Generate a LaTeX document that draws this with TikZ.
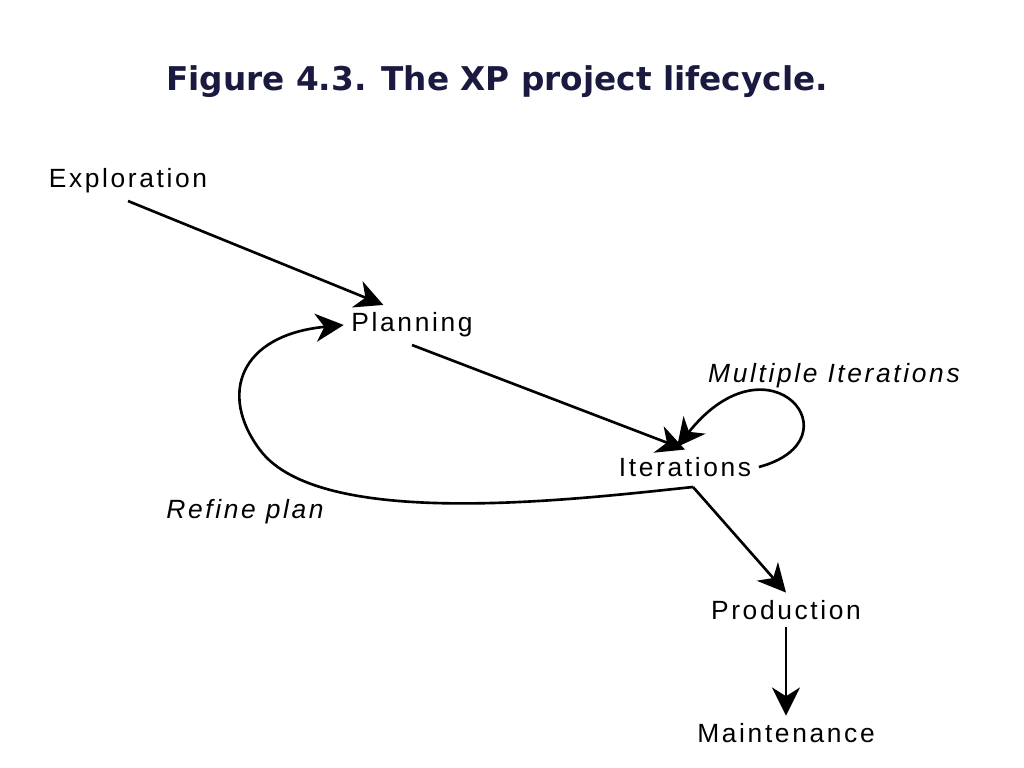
\documentclass[tikz,border=0pt]{standalone}
\usepackage{fontspec}
\setmainfont{Liberation Sans}
\newfontfamily\stagefont[LetterSpace=10]{Liberation Sans}
\newfontfamily\headfont{DejaVu Sans}
\usepackage{tikz}
\usetikzlibrary{arrows.meta}
\usepackage{xcolor}
\definecolor{headnavy}{RGB}{26,26,64}

\begin{document}
\begin{tikzpicture}[x=0.01cm,y=-0.01cm,
    stage/.style={font=\stagefont\fontsize{7.5}{9}\selectfont, inner sep=2pt},
    remark/.style={font=\stagefont\itshape\fontsize{7.5}{9}\selectfont, inner sep=1pt},
    flow/.style={line width=0.75pt, -{Stealth[length=8pt,width=8pt,inset=2.5pt]}}]
  \useasboundingbox (0,0) rectangle (1024,768);
  \node[font=\headfont\bfseries\fontsize{9.3}{11}\selectfont, text=headnavy] (pHead) at (497,82) {Figure 4.3. The XP project lifecycle.};
  \node[stage] (pExpl) at (128,181) {Exploration};
  \node[stage] (pPlan) at (412,325) {Planning};
  \node[stage] (pIter) at (685,467) {Iterations};
  \node[stage] (pProd) at (786,610) {Production};
  \node[stage] (pMaint) at (786,733) {Maintenance};
  \node[remark] (pMulti) at (834,376) {Multiple Iterations};
  \node[remark] (pRefine) at (245,512) {Refine plan};
  \coordinate (pFork) at (693,487);
  \coordinate (pLoopEnd) at (677,447);
  \draw[flow] (pExpl.south) -- (pPlan.145);
  \draw[flow] (pPlan.south) -- (pIter.north);
  \draw[flow] (pIter.east) .. controls (860,440) and (770,330) .. (pLoopEnd);
  \draw[flow] (pFork) .. controls (570,500) and (320,530) .. (260,450)
    .. controls (218,394) and (240,335) .. (pPlan.west);
  \draw[flow] (pFork) -- (pProd.north);
  \draw[flow] (pProd.south) -- (pMaint.north);
\end{tikzpicture}
\end{document}
